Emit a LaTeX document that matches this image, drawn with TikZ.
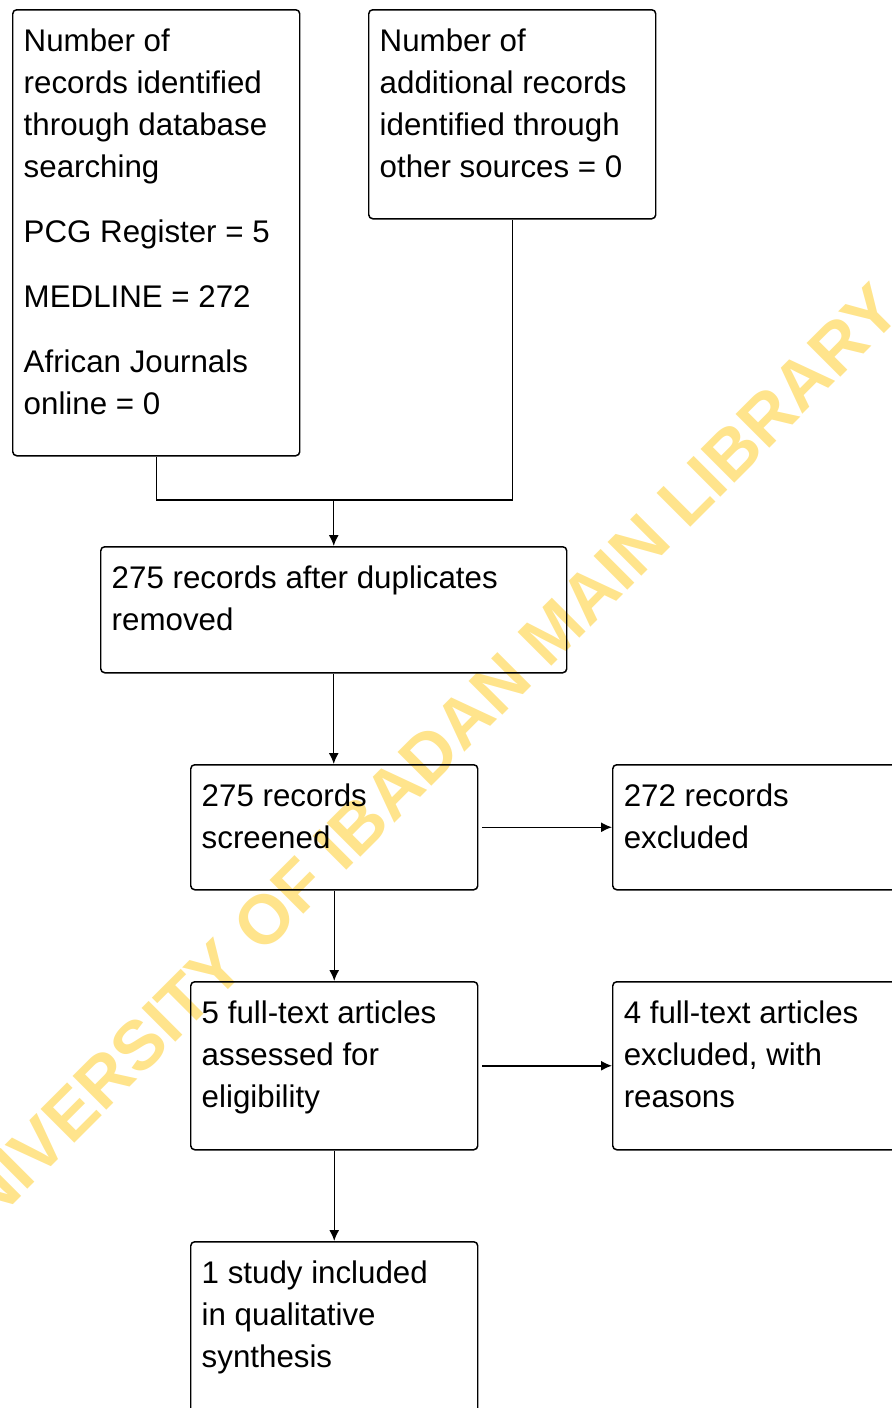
\documentclass[tikz,border=0pt]{standalone}
\usepackage{fontspec}
\setmainfont{Liberation Sans}
\usetikzlibrary{arrows.meta}
\definecolor{stamp}{HTML}{FFE48C}
\newcommand{\flowtext}[3]{\parbox[c][#2][t]{#1}{\raggedright #3}}

\begin{document}
\begin{tikzpicture}[
    flowbox/.style={draw, line width=0.85pt, rounded corners=0.08cm, anchor=north west,
        inner xsep=0.22cm, inner ysep=0.38cm, font=\fontsize{17.8}{23.9}\selectfont},
    flowline/.style={line width=0.85pt},
    flowarrow/.style={line width=0.85pt, -{Latex[length=0.22cm,width=0.2cm]}}]
                \clip (0,0) rectangle (17.84,-28.16);
                % watermark behind the chart
                \node[rotate=45, text=stamp, font=\fontsize{39.5}{44}\bfseries\selectfont] (wmark) at (8.24,-15.44) {UNIVERSITY OF IBADAN MAIN LIBRARY};
                % identification
                \node[flowbox] (dbsearch) at (0.24,-0.18) {\flowtext{5.30cm}{8.16cm}{Number of\\ records identified\\ through database\\ searching\\[0.46cm] PCG Register = 5\\[0.46cm] MEDLINE = 272\\[0.46cm] African Journals\\ online = 0}};
                \node[flowbox] (othersrc) at (7.36,-0.18) {\flowtext{5.30cm}{3.42cm}{Number of\\ additional records\\ identified through\\ other sources = 0}};
                % screening
                \node[flowbox] (dedup) at (2.0,-10.92) {\flowtext{8.88cm}{1.76cm}{275 records after duplicates\\ removed}};
                \node[flowbox] (screened) at (3.8,-15.28) {\flowtext{5.30cm}{1.74cm}{275 records\\ screened}};
                \node[flowbox] (excluded) at (12.24,-15.28) {\flowtext{5.30cm}{1.74cm}{272 records\\ excluded}};
                % eligibility
                \node[flowbox] (fulltext) at (3.8,-19.62) {\flowtext{5.30cm}{2.60cm}{5 full-text articles\\ assessed for\\ eligibility}};
                \node[flowbox] (ftexcl) at (12.24,-19.62) {\flowtext{5.30cm}{2.60cm}{4 full-text articles\\ excluded, with\\ reasons}};
                % included
                \node[flowbox] (included) at (3.8,-24.82) {\flowtext{5.30cm}{2.74cm}{1 study included\\ in qualitative\\ synthesis}};
                % connectors
                \coordinate (merge) at (dedup.north |- 0,-10.0);
                \draw[flowline] (dbsearch.south) |- (merge) -| (othersrc.south);
                \draw[flowarrow] (merge) -- (dedup.north);
                \draw[flowarrow] (dedup.south) -- (dedup.south |- screened.north);
                \draw[flowarrow, shorten <=0.08cm] (screened.east) -- (excluded.west);
                \draw[flowarrow] (screened.south) -- (fulltext.north);
                \draw[flowarrow, shorten <=0.08cm] (fulltext.east) -- (ftexcl.west);
                \draw[flowarrow] (fulltext.south) -- (included.north);
\end{tikzpicture}
\end{document}
